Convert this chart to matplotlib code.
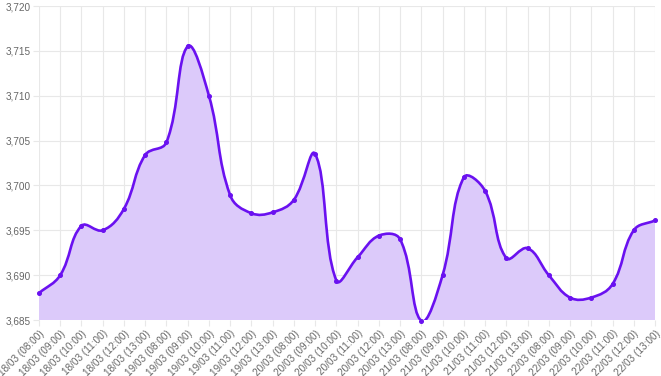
import matplotlib
matplotlib.use("Agg")
import matplotlib.pyplot as plt
import numpy as np
from matplotlib.path import Path
from matplotlib.patches import PathPatch

days = ["18/03", "19/03", "20/03", "21/03", "22/03"]
hours = ["08:00", "09:00", "10:00", "11:00", "12:00", "13:00"]
labels = [f"{d} ({h})" for d in days for h in hours]

values = [
    3688.0, 3690.0, 3695.5, 3695.0, 3697.4, 3703.4,
    3704.8, 3715.5, 3710.0, 3698.9, 3696.9, 3697.0,
    3698.4, 3703.5, 3689.4, 3692.0, 3694.4, 3694.0,
    3684.9, 3690.0, 3700.9, 3699.4, 3691.9, 3693.0,
    3690.0, 3687.5, 3687.5, 3689.0, 3695.0, 3696.1,
]

line_color = "#6a11f0"
fill_color = "#dccafa"
grid_color = "#e8e8e8"
text_color = "#666666"

plt.rcParams["font.family"] = ["Liberation Sans", "DejaVu Sans"]

fig = plt.figure(figsize=(6.61, 3.76), dpi=100)
ax = fig.add_axes([39 / 661, 1 - 320 / 376, (655 - 39) / 661, (320 - 6) / 376])

x = np.arange(len(values), dtype=float)
y = np.array(values)
ax.set_xlim(0, len(values) - 1)
ax.set_ylim(3685, 3720)

# bezier control points like Chart.js (tension 0.4), in pixel scale
sx = (655 - 39) / (len(values) - 1)
sy = (320 - 6) / 35.0
px, py = x * sx, y * sy
t = 0.4
cp_prev = []
cp_next = []
for i in range(len(values)):
    p0 = (px[max(i - 1, 0)], py[max(i - 1, 0)])
    p1 = (px[i], py[i])
    p2 = (px[min(i + 1, len(values) - 1)], py[min(i + 1, len(values) - 1)])
    d01 = np.hypot(p1[0] - p0[0], p1[1] - p0[1])
    d12 = np.hypot(p2[0] - p1[0], p2[1] - p1[1])
    tot = d01 + d12
    s01 = d01 / tot if tot else 0
    s12 = d12 / tot if tot else 0
    fa, fb = t * s01, t * s12
    cp_prev.append(((p1[0] - fa * (p2[0] - p0[0])) / sx, (p1[1] - fa * (p2[1] - p0[1])) / sy))
    cp_next.append(((p1[0] + fb * (p2[0] - p0[0])) / sx, (p1[1] + fb * (p2[1] - p0[1])) / sy))

verts = [(x[0], y[0])]
codes = [Path.MOVETO]
for i in range(1, len(values)):
    verts += [cp_next[i - 1], cp_prev[i], (x[i], y[i])]
    codes += [Path.CURVE4] * 3

fill_verts = verts + [(x[-1], 3600), (x[0], 3600), (x[0], y[0])]
fill_codes = codes + [Path.LINETO, Path.LINETO, Path.CLOSEPOLY]
ax.add_patch(PathPatch(Path(fill_verts, fill_codes), facecolor=fill_color, edgecolor="none", zorder=1))
ax.add_patch(PathPatch(Path(verts, codes), facecolor="none", edgecolor=line_color, lw=1.9, zorder=3))
ax.plot(x, y, "o", ms=2.6, color=line_color, zorder=4, clip_on=False)

ax.set_xticks(x)
ax.set_xticklabels(labels, rotation=45, ha="right", rotation_mode="anchor")
ax.set_yticks(np.arange(3685, 3721, 5))
ax.set_yticklabels([f"{v:,}" for v in range(3685, 3721, 5)])
ax.grid(True, color=grid_color, lw=0.8, zorder=0)
ax.set_axisbelow(True)
for s in ax.spines.values():
    s.set_visible(False)
ax.tick_params(axis="both", colors=grid_color, labelcolor=text_color, labelsize=7.2, length=4, width=0.8, pad=2)

fig.savefig("out.png", dpi=100)
